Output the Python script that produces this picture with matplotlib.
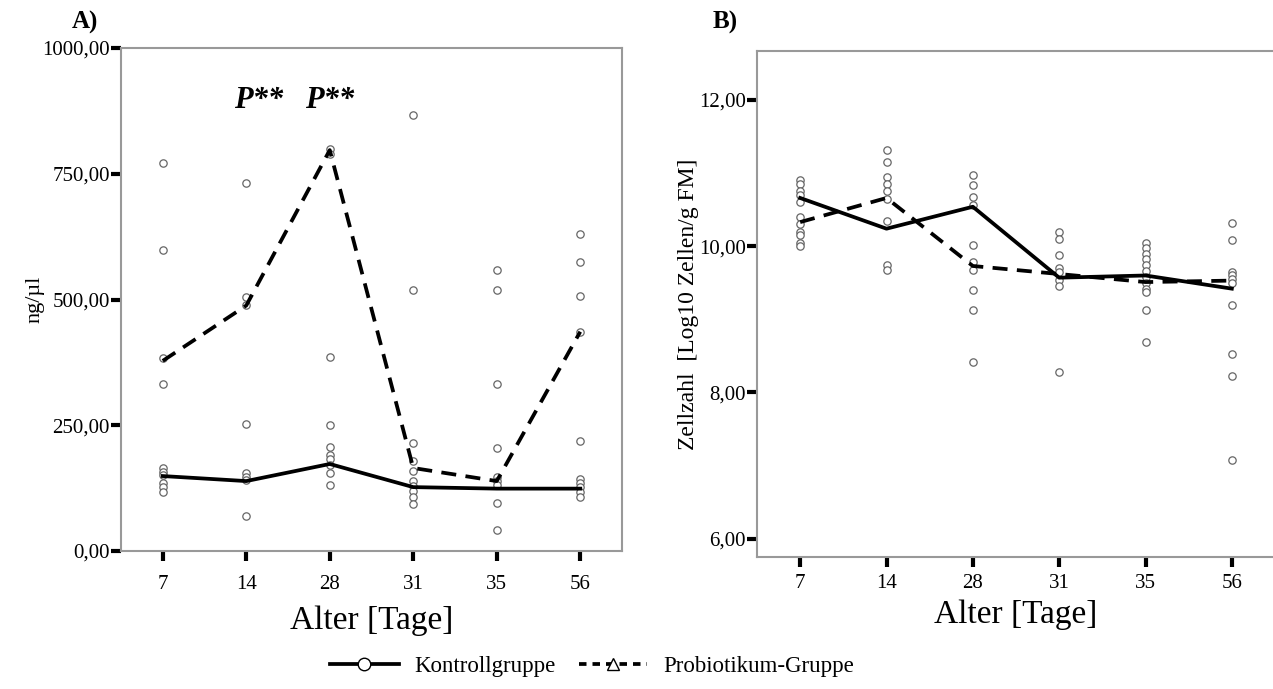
import matplotlib
matplotlib.use("Agg")
import matplotlib.pyplot as plt
from matplotlib.lines import Line2D
from matplotlib.ticker import FuncFormatter

plt.rcParams['font.family'] = ['Liberation Serif', 'DejaVu Serif']

# --- data ---
days = ['7', '14', '28', '31', '35', '56']

# panel A: DNA concentration (ng/µl), group means
a_kontroll = [149, 139, 173, 127, 124, 124]
a_probiotik = [378, 488, 797, 165, 139, 436]
# individual values per age
a_points = [
    [771, 598, 384, 333, 165, 158, 152, 135, 128, 118],
    [731, 504, 490, 253, 155, 148, 142, 70],
    [800, 790, 385, 251, 207, 190, 183, 170, 155, 131],
    [866, 518, 215, 179, 160, 139, 130, 120, 108, 94],
    [558, 518, 333, 205, 148, 140, 132, 96, 42],
    [631, 574, 506, 436, 219, 143, 135, 128, 118, 108],
]

# panel B: cell count (log10 cells / g FM), group means
b_kontroll = [10.66, 10.24, 10.54, 9.57, 9.60, 9.42]
b_probiotik = [10.33, 10.66, 9.73, 9.62, 9.51, 9.53]
b_points = [
    [10.9, 10.85, 10.75, 10.7, 10.6, 10.4, 10.3, 10.2, 10.15, 10.05, 10.0],
    [11.32, 11.15, 10.95, 10.85, 10.75, 10.65, 10.35, 9.75, 9.68],
    [10.98, 10.84, 10.67, 10.57, 10.02, 9.79, 9.68, 9.40, 9.13, 8.42],
    [10.2, 10.1, 9.88, 9.7, 9.65, 9.54, 9.46, 8.28],
    [10.05, 9.97, 9.9, 9.82, 9.74, 9.66, 9.58, 9.5, 9.42, 9.37, 9.13, 8.69],
    [10.32, 10.09, 9.65, 9.6, 9.55, 9.5, 9.2, 8.52, 8.22, 7.08],
]

a_yticks = [0, 250, 500, 750, 1000]
b_yticks = [6, 8, 10, 12]

W, H = 1273, 689
fig = plt.figure(figsize=(W / 100, H / 100), dpi=100)

def px_axes(left, top, right, bottom):
    return fig.add_axes([left / W, (H - bottom) / H, (right - left) / W, (bottom - top) / H])

comma = FuncFormatter(lambda v, p: f"{v:.2f}".replace('.', ','))

def style(ax, xpad):
    for s in ax.spines.values():
        s.set_color('#999999')
        s.set_linewidth(1.5)
    ax.tick_params(axis='both', direction='out', length=7, width=3, color='black',
                   labelsize=15)
    ax.tick_params(axis='x', pad=xpad)
    ax.tick_params(axis='y', pad=1)
    ax.yaxis.set_major_formatter(comma)

def draw(ax, means_k, means_p, pts):
    x = list(range(len(days)))
    for i, vals in enumerate(pts):
        ax.scatter([i] * len(vals), vals, s=28, marker='o', facecolors='white',
                   edgecolors='#666666', linewidths=0.9, zorder=2)
    ax.plot(x, means_k, color='black', lw=2.7, ls='-', zorder=3)
    ax.plot(x, means_p, color='black', lw=2.7, ls=(0, (4, 2.5)), zorder=3)
    ax.set_xticks(x)
    ax.set_xticklabels(days)
    ax.set_xlim(-0.5, 5.5)

# panel A
axA = px_axes(121, 48, 622, 551)
draw(axA, a_kontroll, a_probiotik, a_points)
axA.set_ylim(0, 1000)
axA.set_yticks(a_yticks)
style(axA, 10)
axA.set_xlabel('Alter [Tage]', fontsize=24)
axA.xaxis.set_label_coords(0.5, -(606 - 551) / 503, transform=axA.transAxes)
axA.set_ylabel('ng/µl', fontsize=16)
axA.yaxis.set_label_coords(-(121 - 44) / 501, 0.5, transform=axA.transAxes)
axA.text(1.15, 896, 'P**', fontsize=22, fontweight='bold', style='italic', ha='center', va='center')
axA.text(2.0, 896, 'P**', fontsize=22, fontweight='bold', style='italic', ha='center', va='center')
fig.text(85 / W, 1 - 22 / H, 'A)', fontsize=18, fontweight='bold', ha='center', va='center')

# panel B
axB = px_axes(757, 51, 1275, 557)
draw(axB, b_kontroll, b_probiotik, b_points)
axB.set_ylim(5.75, 12.67)
axB.set_yticks(b_yticks)
style(axB, 5.5)
axB.set_xlabel('Alter [Tage]', fontsize=24)
axB.xaxis.set_label_coords(0.5, -(600 - 557) / 506, transform=axB.transAxes)
axB.set_ylabel('Zellzahl  [Log10 Zellen/g FM]', fontsize=17)
axB.yaxis.set_label_coords(-(757 - 699) / 518, 0.5, transform=axB.transAxes)
fig.text(725 / W, 1 - 22 / H, 'B)', fontsize=18, fontweight='bold', ha='center', va='center')

# legend
handles = [
    Line2D([], [], color='black', lw=2.7, ls='-', marker='o', markersize=9,
           markerfacecolor='white', markeredgecolor='black', markeredgewidth=1),
    Line2D([], [], color='black', lw=2.7, ls=(0, (2, 1.6)), marker='^', markersize=9,
           markerfacecolor='white', markeredgecolor='black', markeredgewidth=1),
]
fig.legend(handles, ['Kontrollgruppe', 'Probiotikum-Gruppe'], loc='center',
           bbox_to_anchor=(592 / W, 1 - 666 / H), ncol=2, frameon=False, fontsize=16.5,
           handlelength=3.0, columnspacing=1.0, handletextpad=0.7)

fig.savefig('out.png', dpi=100)
